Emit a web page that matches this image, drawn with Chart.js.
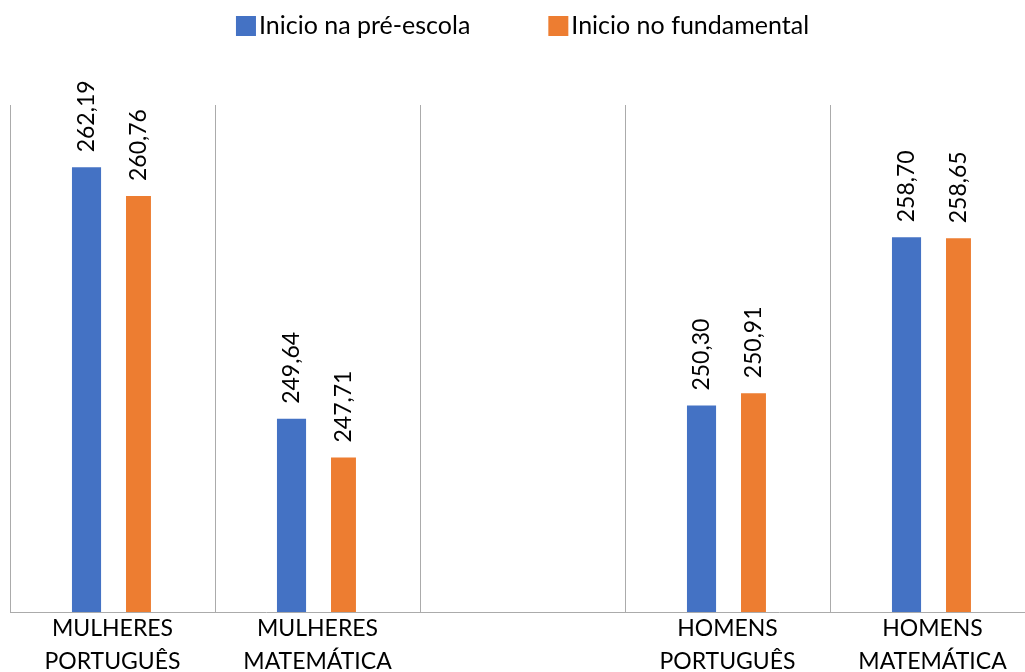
<!DOCTYPE html>
<html>
<head>
<meta charset="utf-8">
<title>Desempenho por início da escolarização</title>
<script src="https://cdn.jsdelivr.net/npm/chart.js@4"></script>
<style>
  html, body { margin: 0; padding: 0; background: #fff; overflow: hidden; }
  canvas { display: block; }
</style>
</head>
<body>
<canvas id="notas" width="1045" height="692"></canvas>
<script>
// Notas médias por grupo e por etapa de início
const categorias = [
  ['MULHERES', 'PORTUGUÊS'],
  ['MULHERES', 'MATEMÁTICA'],
  '',
  ['HOMENS', 'PORTUGUÊS'],
  ['HOMENS', 'MATEMÁTICA'],
];
const preEscola = [262.19, 249.64, null, 250.30, 258.70];
const fundamental = [260.76, 247.71, null, 250.91, 258.65];
const nomesSeries = ['Inicio na pré-escola', 'Inicio no fundamental'];

const cores = {
  azul: '#4472C4',
  laranja: '#ED7D31',
  grade: '#ababab',
  texto: '#000000',
};

const fonte = 'Lato, "Liberation Sans", sans-serif';
Chart.defaults.font.family = fonte;
Chart.defaults.color = cores.texto;

// valores escritos na vertical acima de cada barra (com vírgula decimal)
const rotulosValores = {
  id: 'rotulosValores',
  afterDatasetsDraw(chart) {
    const ctx = chart.ctx;
    ctx.save();
    ctx.font = '23px ' + fonte;
    ctx.fillStyle = cores.texto;
    ctx.textAlign = 'left';
    ctx.textBaseline = 'middle';
    chart.data.datasets.forEach((ds, i) => {
      chart.getDatasetMeta(i).data.forEach((bar, j) => {
        const v = ds.data[j];
        if (v == null) return;
        ctx.save();
        ctx.translate(bar.x, bar.y - 15);
        ctx.rotate(-Math.PI / 2);
        ctx.fillText(v.toFixed(2).replace('.', ','), 0, 0);
        ctx.restore();
      });
    });
    ctx.restore();
  }
};

// legenda no topo: quadrado colado ao texto
const legendaTopo = {
  id: 'legendaTopo',
  afterDraw(chart) {
    const ctx = chart.ctx;
    const caixa = 20, folga = 3, entre = 78;
    ctx.save();
    ctx.font = '25px ' + fonte;
    ctx.textBaseline = 'middle';
    ctx.textAlign = 'left';
    const itens = chart.data.datasets.map(ds => ({
      texto: ds.label,
      cor: ds.backgroundColor,
      largura: caixa + folga + ctx.measureText(ds.label).width,
    }));
    const total = itens.reduce((s, it) => s + it.largura, 0) + entre * (itens.length - 1);
    let x = (chart.width - total) / 2;
    const y = 26;
    itens.forEach(it => {
      ctx.fillStyle = it.cor;
      ctx.fillRect(x, y - caixa / 2, caixa, caixa);
      ctx.fillStyle = cores.texto;
      ctx.fillText(it.texto, x + caixa + folga, y);
      x += it.largura + entre;
    });
    ctx.restore();
  }
};

new Chart(document.getElementById('notas'), {
  type: 'bar',
  data: {
    labels: categorias,
    datasets: [
      {
        label: nomesSeries[0],
        data: preEscola,
        backgroundColor: cores.azul,
        categoryPercentage: 0.507,
        barPercentage: 0.56,
      },
      {
        label: nomesSeries[1],
        data: fundamental,
        backgroundColor: cores.laranja,
        categoryPercentage: 0.507,
        barPercentage: 0.48,
      }
    ]
  },
  options: {
    responsive: false,
    animation: false,
    devicePixelRatio: 1,
    layout: {
      padding: { top: 105, left: 10, right: 10, bottom: 0 }
    },
    plugins: {
      legend: { display: false },
      tooltip: { enabled: false },
    },
    scales: {
      x: {
        offset: true,
        grid: {
          offset: true,
          color: cores.grade,
          lineWidth: 1,
          drawTicks: false,
        },
        border: { display: true, color: cores.grade, width: 1 },
        ticks: {
          autoSkip: false,
          maxRotation: 0,
          padding: 0,
          color: cores.texto,
          font: { size: 23, lineHeight: '33px' },
        },
        afterFit(scale) { scale.height = 80; },
      },
      y: {
        display: false,
        min: 240,
        max: 265.3,
      }
    }
  },
  plugins: [rotulosValores, legendaTopo]
});
</script>
</body>
</html>
